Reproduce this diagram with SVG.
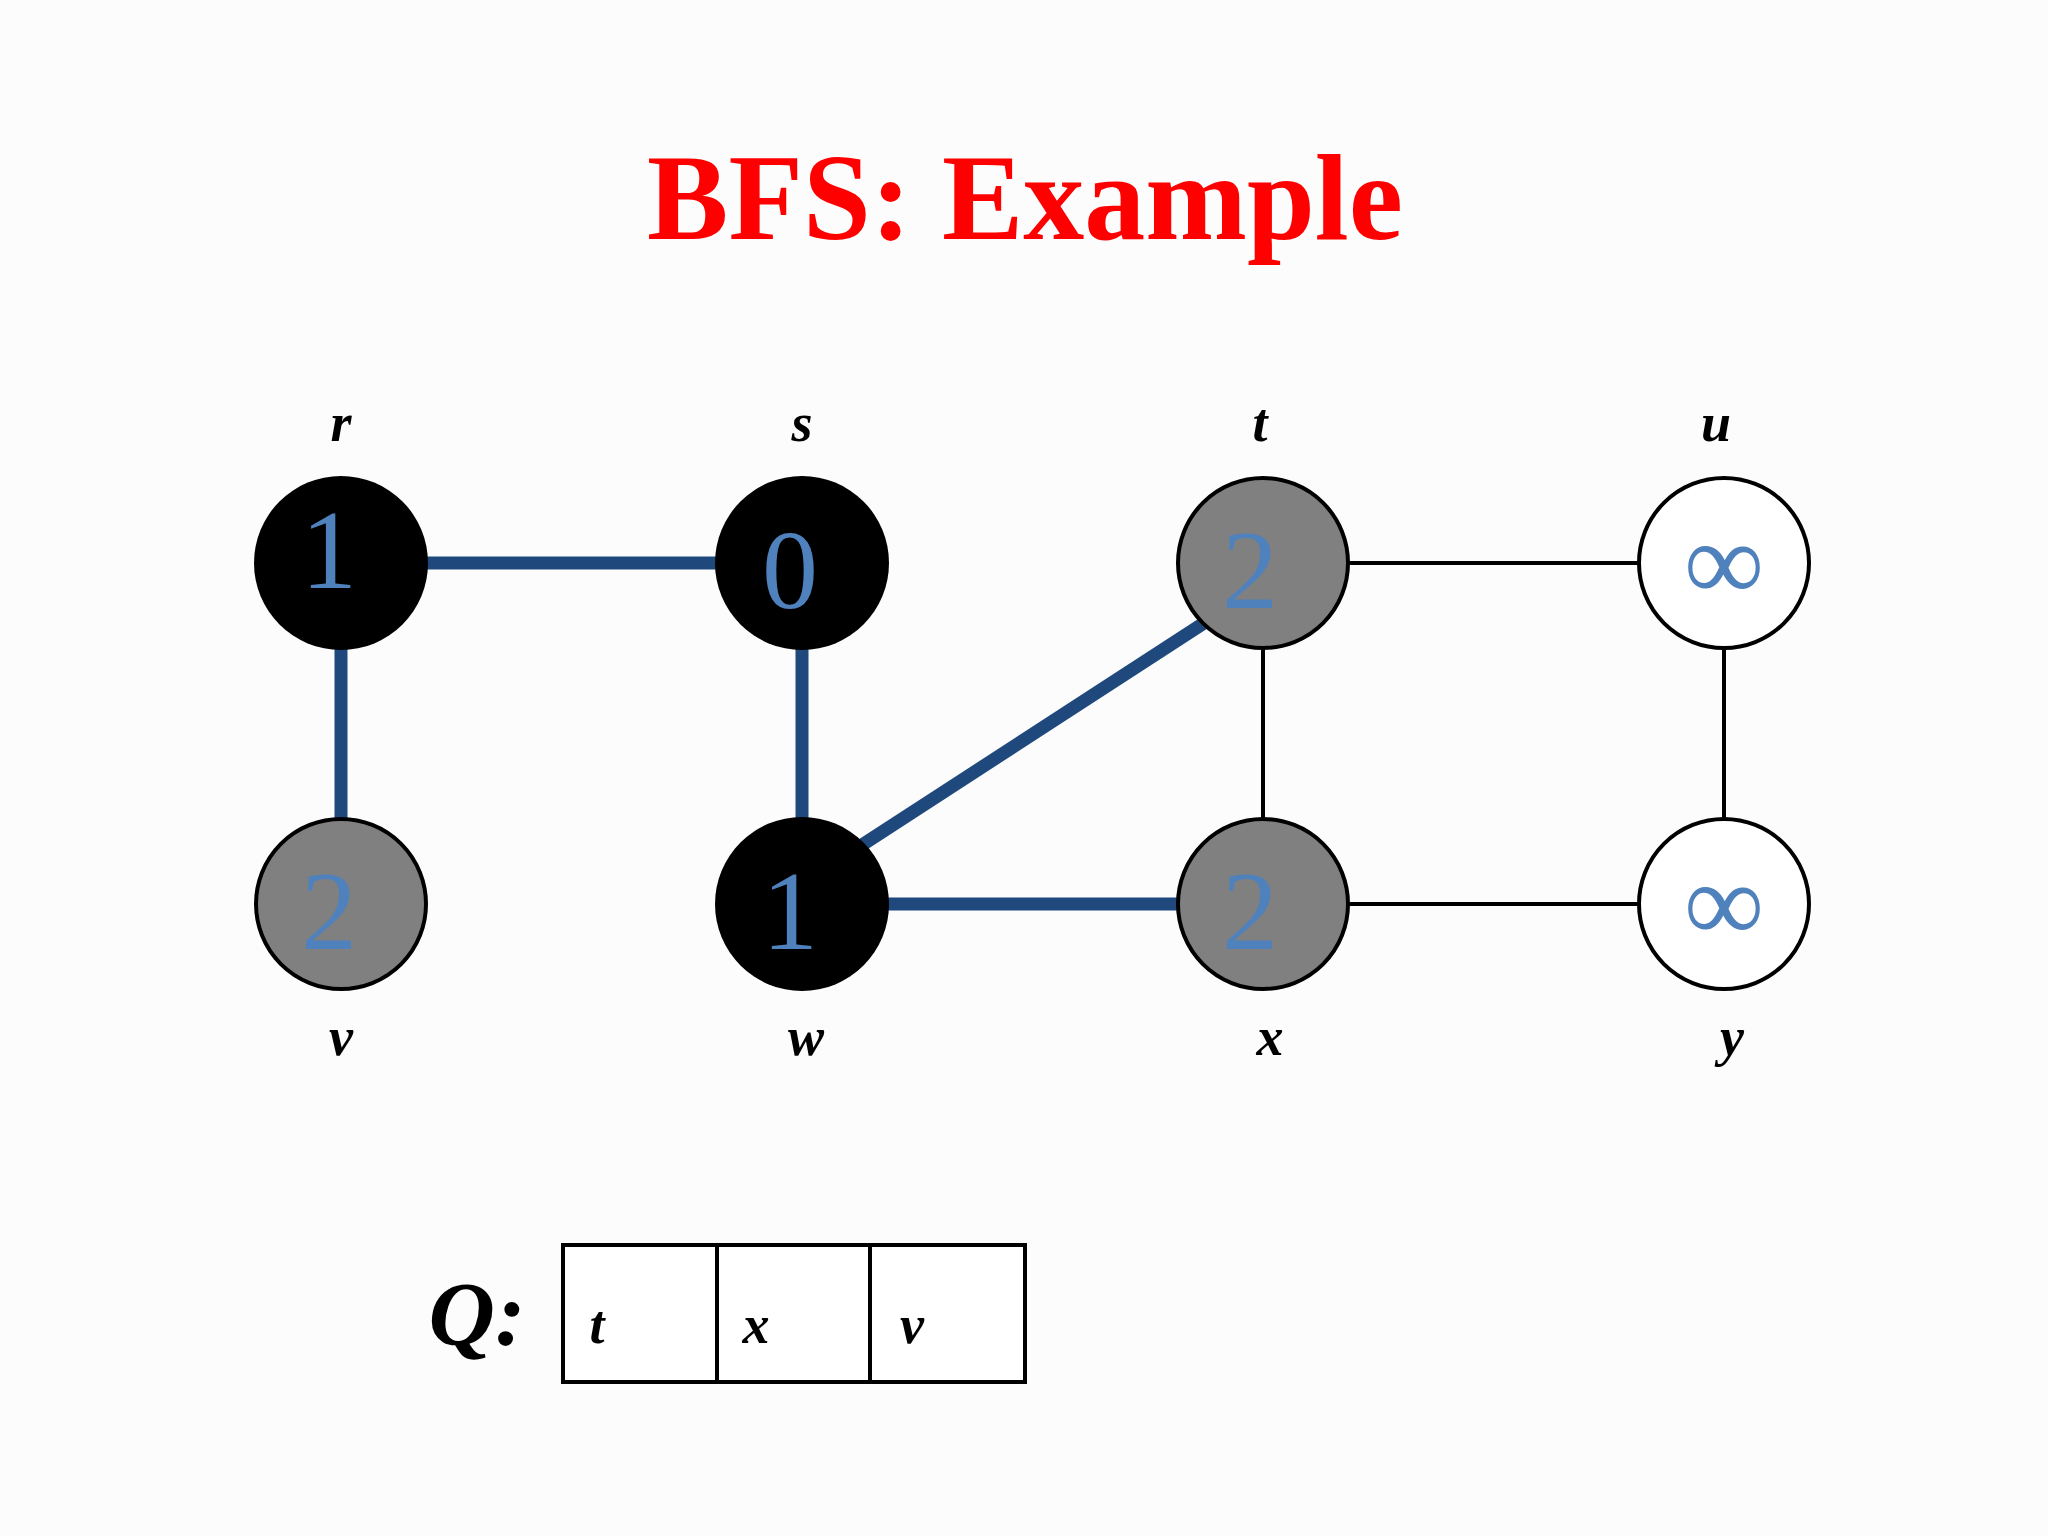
<svg xmlns="http://www.w3.org/2000/svg" width="2048" height="1536" viewBox="0 0 2048 1536">
<style>
.lbl{font-family:"Liberation Serif",serif;font-style:italic;font-weight:bold;font-size:54px;fill:#000;text-anchor:middle}
.num{font-family:"Liberation Serif",serif;font-size:112px;fill:#4f81bd;text-anchor:middle}
.thick{stroke:#1f497d;stroke-width:13}
.thin{stroke:#000;stroke-width:4}
</style>
<rect width="2048" height="1536" fill="#fcfcfc"/>
<text x="1025" y="239" font-family="Liberation Serif,serif" font-weight="bold" font-size="122" fill="#ff0000" text-anchor="middle">BFS: Example</text>
<g id="connectors">
<line class="thick" x1="341" y1="563" x2="802" y2="563"/>
<line class="thick" x1="341" y1="563" x2="341" y2="904"/>
<line class="thick" x1="802" y1="563" x2="802" y2="904"/>
<line class="thick" x1="862" y1="845" x2="1204" y2="623"/>
<line class="thick" x1="802" y1="904" x2="1263" y2="904"/>
<line class="thin" x1="1263" y1="563" x2="1724" y2="563"/>
<line class="thin" x1="1263" y1="563" x2="1263" y2="904"/>
<line class="thin" x1="1724" y1="563" x2="1724" y2="904"/>
<line class="thin" x1="1263" y1="904" x2="1724" y2="904"/>
</g>
<g id="r"><circle cx="341" cy="563" r="87" fill="#000"/><text class="lbl" x="341" y="441">r</text><text class="num" x="329" y="588">1</text></g>
<g id="s"><circle cx="802" cy="563" r="87" fill="#000"/><text class="lbl" x="802" y="441">s</text><text class="num" x="790" y="608">0</text></g>
<g id="t"><circle cx="1263" cy="563" r="85" fill="#808080" stroke="#000" stroke-width="4"/><text class="lbl" x="1260" y="441">t</text><text class="num" x="1250" y="608">2</text></g>
<g id="u"><circle cx="1724" cy="563" r="85" fill="#fff" stroke="#000" stroke-width="4"/><text class="lbl" x="1716" y="441">u</text><text class="num" x="1724" y="600">∞</text></g>
<g id="v"><circle cx="341" cy="904" r="85" fill="#808080" stroke="#000" stroke-width="4"/><text class="lbl" x="341" y="1055">v</text><text class="num" x="329" y="949">2</text></g>
<g id="w"><circle cx="802" cy="904" r="87" fill="#000"/><text class="lbl" x="806" y="1055">w</text><text class="num" x="790" y="949">1</text></g>
<g id="x"><circle cx="1263" cy="904" r="85" fill="#808080" stroke="#000" stroke-width="4"/><text class="lbl" x="1270" y="1055">x</text><text class="num" x="1250" y="949">2</text></g>
<g id="y"><circle cx="1724" cy="904" r="85" fill="#fff" stroke="#000" stroke-width="4"/><text class="lbl" x="1732" y="1055">y</text><text class="num" x="1724" y="941">∞</text></g>
<g id="queue">
<text x="477" y="1345" font-family="Liberation Serif,serif" font-style="italic" font-weight="bold" font-size="92" text-anchor="middle">Q:</text>
<rect x="563" y="1245" width="462" height="137" fill="#fff" stroke="#000" stroke-width="4"/>
<line class="thin" x1="717" y1="1245" x2="717" y2="1382"/>
<line class="thin" x1="870" y1="1245" x2="870" y2="1382"/>
<text class="lbl" x="597" y="1343" font-size="66">t</text>
<text class="lbl" x="756" y="1343" font-size="66">x</text>
<text class="lbl" x="912" y="1343" font-size="66">v</text>
</g>
</svg>
